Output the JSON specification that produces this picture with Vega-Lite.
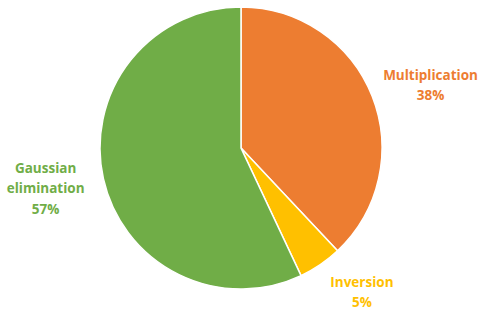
{
  "$schema": "https://vega.github.io/schema/vega-lite/v6.json",
  "width": 482,
  "height": 296,
  "autosize": {"type": "none"},
  "padding": {"top": 0, "left": 0, "right": 0, "bottom": 15},
  "background": "white",
  "view": {"stroke": null},
  "data": {
    "values": [
      {"task": "Multiplication", "pct": 38, "idx": 1, "label": "Multiplication\n38%"},
      {"task": "Inversion", "pct": 5, "idx": 2, "label": "Inversion\n5%"},
      {"task": "Gaussian elimination", "pct": 57, "idx": 3, "label": "Gaussian\nelimination\n57%"}
    ]
  },
  "encoding": {
    "theta": {"field": "pct", "type": "quantitative", "stack": true},
    "order": {"field": "idx", "type": "quantitative"},
    "color": {
      "field": "task",
      "type": "nominal",
      "scale": {"domain": ["Multiplication", "Inversion", "Gaussian elimination"], "range": ["#ED7D31", "#FFC000", "#70AD47"]},
      "legend": null
    }
  },
  "layer": [
    {"mark": {"type": "arc", "outerRadius": 141, "stroke": "white", "strokeWidth": 1.5}},
    {
      "mark": {"type": "text", "radius": 192, "dx": 11, "dy": -1, "lineBreak": "\n", "font": "Open Sans", "fontWeight": "bold", "fontSize": 13.5, "lineHeight": 20, "align": "center", "baseline": "middle"},
      "encoding": {"text": {"condition": {"test": "datum.task === 'Multiplication'", "field": "label"}, "value": ""}}
    },
    {
      "mark": {"type": "text", "radius": 192, "dx": 13, "dy": -24, "lineBreak": "\n", "font": "Open Sans", "fontWeight": "bold", "fontSize": 13.5, "lineHeight": 20, "align": "center", "baseline": "middle"},
      "encoding": {"text": {"condition": {"test": "datum.task === 'Inversion'", "field": "label"}, "value": ""}}
    },
    {
      "mark": {"type": "text", "radius": 192, "dx": -8, "dy": -21, "lineBreak": "\n", "font": "Open Sans", "fontWeight": "bold", "fontSize": 13.5, "lineHeight": 20.5, "align": "center", "baseline": "middle"},
      "encoding": {"text": {"condition": {"test": "datum.task === 'Gaussian elimination'", "field": "label"}, "value": ""}}
    }
  ]
}
